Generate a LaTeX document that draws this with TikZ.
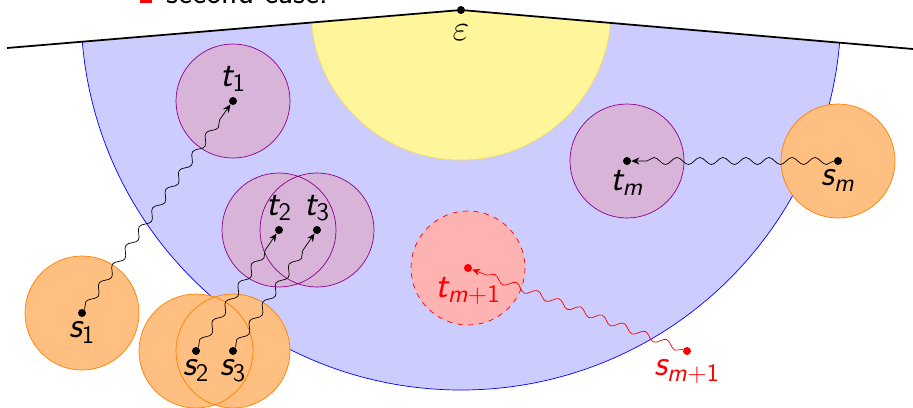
\documentclass[tikz,border=0pt]{standalone}
\usepackage{amsmath}
\usepackage{xcolor}
\usepackage{tikz}
\usetikzlibrary{arrows.meta, decorations.pathmorphing, backgrounds}

\DeclareMathAlphabet{\mathsfit}{OT1}{cmss}{m}{sl}
\newcommand{\lab}[2]{$\mathsfit{#1}_{#2}$}

\definecolor{ballblue}{RGB}{204,204,255}
\definecolor{ballyellow}{RGB}{255,246,155}
\definecolor{edgeyellow}{RGB}{250,222,90}
\definecolor{ballpurple}{RGB}{216,180,216}
\definecolor{edgepurple}{RGB}{140,0,140}
\definecolor{ballorange}{RGB}{255,191,128}

\begin{document}
\begin{tikzpicture}[
    x=0.2mm, y=-0.2mm,
    >={Stealth[length=1.6mm, width=1.4mm]},
    point/.style={circle, fill, inner sep=0pt, minimum size=1.6mm},
    every label/.style={inner sep=2.5pt, font=\fontsize{20}{24}\selectfont},
    walk/.style={->, decorate, decoration={snake, amplitude=0.7mm,
        segment length=4.6mm, post length=2mm}},
    target/.style={draw=edgepurple},
    source/.style={draw=orange},
  ]
  \useasboundingbox (0,0) rectangle (913,407);
  \clip (0,0) rectangle (913,407);

  % legend line cut by the page
  \fill[red] (140,-10) rectangle (152,3);
  \node[anchor=base west, inner sep=0pt, font=\fontsize{19}{23}\selectfont\sffamily]
    (case) at (166,3) {second case.};

  \node[point, label={[label distance=3pt]below:$\varepsilon$}] (eps) at (461,10) {};

  \node[point, label={below:\lab{s}{\mathsf{1}}}] (s1) at (82,313) {};
  \node[point, label={below:\lab{s}{\mathsf{2}}}] (s2) at (196,351) {};
  \node[point, label={below:\lab{s}{\mathsf{3}}}] (s3) at (233,351) {};
  \node[point, label={below:\lab{s}{\mathsfit{m}}}] (sm) at (838,161) {};
  \node[point, red, label={[red]below:\lab{s}{\mathsfit{m}+\mathsf{1}}}] (sm1) at (687,351) {};

  \node[point, label={above:\lab{t}{\mathsf{1}}}] (t1) at (233,101) {};
  \node[point, label={above:\lab{t}{\mathsf{2}}}] (t2) at (279,230) {};
  \node[point, label={above:\lab{t}{\mathsf{3}}}] (t3) at (317,230) {};
  \node[point, label={below:\lab{t}{\mathsfit{m}}}] (tm) at (627,161) {};
  \node[point, red, label={[red]below:\lab{t}{\mathsfit{m}+\mathsf{1}}}] (tm1) at (468,268) {};

  \begin{pgfonlayer}{background}
    \begin{scope}
      \clip (0,48) -- (7,48) -- (eps.center) -- (913,49) -- (913,407) -- (0,407) -- cycle;
      \draw[blue, fill=ballblue] (eps.center) circle[radius=380];
      \draw[edgeyellow, fill=ballyellow] (eps.center) circle[radius=150];
    \end{scope}
    \draw[line width=1pt] (7,48) -- (eps.center) -- (913,49);

    \fill[ballpurple] (t1) circle[radius=57] (t2) circle[radius=57]
      (t3) circle[radius=57] (tm) circle[radius=57];
    \draw[target] (t1) circle[radius=57] (t2) circle[radius=57]
      (t3) circle[radius=57] (tm) circle[radius=57];
    \fill[ballorange] (s1) circle[radius=57] (s2) circle[radius=57]
      (s3) circle[radius=57] (sm) circle[radius=57];
    \draw[source] (s1) circle[radius=57] (s2) circle[radius=57]
      (s3) circle[radius=57] (sm) circle[radius=57];
    \draw[red, dashed, fill=red!30] (tm1) circle[radius=57];
  \end{pgfonlayer}

  \draw[walk] (s1) -- (t1);
  \draw[walk] (s2) -- (t2);
  \draw[walk] (s3) -- (t3);
  \draw[walk] (sm) -- (tm);
  \draw[walk, red] (sm1) -- (tm1);
\end{tikzpicture}
\end{document}
